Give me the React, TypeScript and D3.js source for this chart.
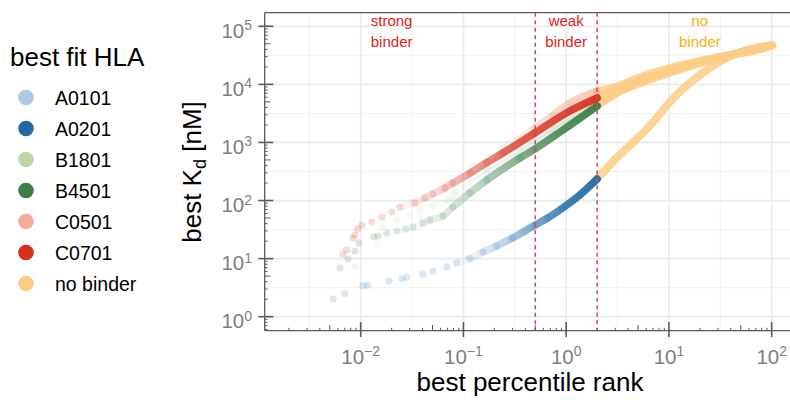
import React, { useEffect, useRef } from "react";
import * as d3 from "d3";

// legend groups and colours
const groups = ["A0101", "A0201", "B1801", "B4501", "C0501", "C0701", "no binder"];
const groupColors = ["#aec7e2", "#1f6aa5", "#c2d5a8", "#3b7f47", "#f4ad98", "#d7301f", "#fdcd85"];

// [best percentile rank, best Kd (nM)]; rank > 2 counts as "no binder"
const A0101 = [
  [0.0146, 17.6], [0.0377, 54], [0.0789, 106], [0.169, 287], [0.354, 608], [0.741, 1455], [2, 4590],
  [3, 7540], [5, 11000], [10, 17000], [20, 24300], [40, 32000], [70, 39900], [100, 47000],
];
const A0201 = [
  [0.0054, 2.0], [0.007, 2.5], [0.0105, 3.4], [0.0117, 3.5], [0.0188, 4.1], [0.0252, 4.5],
  [0.0282, 4.8], [0.0403, 5.4], [0.0504, 6.1], [0.069, 7.2], [0.086, 8.4], [0.115, 10],
  [0.155, 13], [0.21, 16.5], [0.3, 22.6], [0.5, 38], [0.66, 50], [0.93, 75], [1.36, 125], [2, 235],
  [3, 511], [5, 1208], [7, 2220], [10, 4800], [14, 8700], [20, 14500], [30, 23800], [50, 36100],
  [70, 42300], [100, 47000],
];
const B1801 = [
  [0.0088, 7.5], [0.0164, 35], [0.0225, 46], [0.0301, 56], [0.0377, 72], [0.0504, 82], [0.069, 100],
  [0.0826, 140], [0.169, 363], [0.354, 803], [0.741, 1850], [2, 5070],
  [3, 7540], [5, 11000], [10, 17000], [20, 24300], [40, 32000], [70, 39900], [100, 47000],
];
const B4501 = [
  [0.0063, 6.9], [0.0075, 9.85], [0.0088, 13.5], [0.0096, 18.6], [0.0134, 23.6], [0.0147, 24.5],
  [0.018, 27.6], [0.0225, 29.9], [0.0275, 32.4], [0.0322, 35.1], [0.0403, 41.1], [0.0471, 46.3],
  [0.0631, 54.2], [0.0789, 77.4], [0.1156, 135], [0.169, 226], [0.354, 540], [0.495, 771],
  [0.929, 1640], [2, 4250],
  [3, 6820], [5, 10200], [10, 15700], [20, 23300], [40, 32000], [70, 42300], [100, 47000],
];
const C0501 = [
  [0.242, 803], [0.354, 1150], [0.495, 1775], [0.741, 2970], [1.086, 4790], [2, 7690],
  [3, 9020], [5, 12900], [10, 19100], [20, 25300], [40, 32000], [70, 38300], [100, 47000],
];
const C0701 = [
  [0.0067, 12.0], [0.0073, 14.1], [0.0084, 22.6], [0.0088, 25.5], [0.0094, 32.4], [0.0103, 37.9],
  [0.0128, 42.7], [0.0161, 52.1], [0.0201, 63.5], [0.0241, 77.4], [0.0337, 90.7], [0.0422, 111],
  [0.0504, 130], [0.066, 165], [0.079, 200], [0.116, 298], [0.169, 452], [0.242, 658],
  [0.495, 1455], [1.086, 3480], [2, 5830],
  [3, 8000], [5, 11400], [10, 17300], [20, 24300], [40, 32000], [70, 39900], [100, 47000],
];

const cutoffs = [0.5, 2];
const zoneLabels = [["strong", "binder"], ["weak", "binder"], ["no", "binder"]];
const zoneRanks = [0.02, 1, 20];
const zoneColors = ["#e41a1c", "#e41a1c", "#f2b10c"];

const FONT = "'Liberation Sans', Arial, Helvetica, sans-serif";

export default function App() {
  const ref = useRef<SVGSVGElement>(null);

  useEffect(() => {
    document.body.style.margin = "0";
    const svg = d3.select(ref.current);
    svg.selectAll("*").remove();

    const left = 264.7, right = 790, top = 12.7, bottom = 330.7;
    const x = d3.scaleLog().domain([0.01, 100]).range([360.7, 771.7]);
    const y = d3.scaleLog().domain([1, 1e5]).range([316.7, 26.3]);
    const xMin = x.invert(left), xMax = x.invert(right);
    const yMin = y.invert(bottom), yMax = y.invert(top);
    const color = d3.scaleOrdinal<string, string>().domain(groups).range(groupColors);

    const defs = svg.append("defs");
    defs.append("clipPath").attr("id", "panel")
      .append("rect").attr("x", left).attr("y", top)
      .attr("width", right - left).attr("height", bottom - top);

    // grid
    const grid = svg.append("g");
    for (let k = -4; k <= 3; k++) {
      const maj = Math.pow(10, k), mn = Math.pow(10, k + 0.5);
      if (mn > xMin && mn < xMax)
        grid.append("line").attr("x1", x(mn)).attr("x2", x(mn)).attr("y1", top).attr("y2", bottom)
          .attr("stroke", "#f2f2f2").attr("stroke-width", 1);
      if (maj > xMin && maj < xMax)
        grid.append("line").attr("x1", x(maj)).attr("x2", x(maj)).attr("y1", top).attr("y2", bottom)
          .attr("stroke", "#ebebeb").attr("stroke-width", 1.7);
    }
    for (let k = -1; k <= 6; k++) {
      const maj = Math.pow(10, k), mn = Math.pow(10, k + 0.5);
      if (mn > yMin && mn < yMax)
        grid.append("line").attr("y1", y(mn)).attr("y2", y(mn)).attr("x1", left).attr("x2", right)
          .attr("stroke", "#f2f2f2").attr("stroke-width", 1);
      if (maj > yMin && maj < yMax)
        grid.append("line").attr("y1", y(maj)).attr("y2", y(maj)).attr("x1", left).attr("x2", right)
          .attr("stroke", "#ebebeb").attr("stroke-width", 1.7);
    }

    const line = d3.line<number[]>()
      .x((d) => x(d[0]))
      .y((d) => y(d[1]))
      .curve(d3.curveMonotoneX);

    // fade: how dense the points get along the rank axis
    const series = [
      { name: "A0101", data: A0101, fade: [[0.05, 0], [0.3, 0.12], [2, 0.25]], dot: 0.1 },
      { name: "B1801", data: B1801, fade: [[0.03, 0], [0.12, 0.12], [0.5, 0.3], [2, 0.5]], dot: 0.16 },
      { name: "C0501", data: C0501, fade: [[0.2, 0], [0.5, 0.35], [2, 0.7]], dot: 0.15 },
      { name: "A0201", data: A0201, fade: [[0.08, 0], [0.2, 0.2], [0.5, 0.6], [1, 0.85], [2, 0.95]], dot: 0.16 },
      { name: "B4501", data: B4501, fade: [[0.03, 0], [0.12, 0.28], [0.4, 0.65], [1, 0.88], [2, 0.95]], dot: 0.18 },
      { name: "C0701", data: C0701, fade: [[0.02, 0], [0.05, 0.15], [0.12, 0.45], [0.3, 0.75], [2, 0.95]], dot: 0.18 },
    ];

    const plot = svg.append("g").attr("clip-path", "url(#panel)");

    // no binder continuation (rank > 2)
    series.forEach((s) => {
      plot.append("path")
        .attr("d", line(s.data.filter((d) => d[0] >= 2)))
        .attr("fill", "none")
        .attr("stroke", color("no binder"))
        .attr("stroke-opacity", 0.85)
        .attr("stroke-width", 8)
        .attr("stroke-linecap", "round")
        .attr("stroke-linejoin", "round");
    });

    series.forEach((s, i) => {
      const main = s.data.filter((d) => d[0] <= 2);
      const x1 = x(s.fade[0][0]), x2 = x(2);
      const grad = defs.append("linearGradient")
        .attr("id", "fade" + i)
        .attr("gradientUnits", "userSpaceOnUse")
        .attr("x1", x1).attr("x2", x2).attr("y1", 0).attr("y2", 0);
      s.fade.forEach((f) => {
        grad.append("stop")
          .attr("offset", (x(f[0]) - x1) / (x2 - x1))
          .attr("stop-color", color(s.name))
          .attr("stop-opacity", f[1]);
      });
      plot.append("path")
        .attr("d", line(main))
        .attr("fill", "none")
        .attr("stroke", `url(#fade${i})`)
        .attr("stroke-width", 7.5)
        .attr("stroke-linecap", "round")
        .attr("stroke-linejoin", "round");
      plot.selectAll(null)
        .data(main)
        .enter()
        .append("circle")
        .attr("cx", (d) => x(d[0]))
        .attr("cy", (d) => y(d[1]))
        .attr("r", 3.6)
        .attr("fill", color(s.name))
        .attr("fill-opacity", s.dot);
    });

    // cut-off lines
    cutoffs.forEach((c) => {
      svg.append("line")
        .attr("x1", x(c)).attr("x2", x(c)).attr("y1", top).attr("y2", bottom)
        .attr("stroke", "#e0434f").attr("stroke-width", 1.5)
        .attr("stroke-dasharray", "4,3.5");
    });

    // zone labels
    zoneLabels.forEach((lines, i) => {
      lines.forEach((t, j) => {
        svg.append("text")
          .attr("x", x(zoneRanks[i]))
          .attr("y", 26 + j * 21)
          .attr("text-anchor", "middle")
          .attr("font-family", FONT)
          .attr("font-size", 15)
          .attr("fill", zoneColors[i])
          .text(t);
      });
    });

    // axes + log ticks
    const axisCol = "#5a5a5a";
    const ax = svg.append("g").attr("stroke", axisCol);
    ax.append("line").attr("x1", left).attr("x2", right).attr("y1", top).attr("y2", top).attr("stroke-width", 1.3);
    ax.append("line").attr("x1", left).attr("x2", right).attr("y1", bottom).attr("y2", bottom).attr("stroke-width", 1.3);
    ax.append("line").attr("x1", left).attr("x2", left).attr("y1", top).attr("y2", bottom).attr("stroke-width", 1.3);

    const tickLen = (m: number) => (m === 1 ? 8.6 : m === 5 ? 5.7 : 2.9);
    for (let k = -4; k <= 3; k++) {
      for (let m = 1; m <= 9; m++) {
        const v = m * Math.pow(10, k);
        if (v > xMin && v < xMax) {
          ax.append("line").attr("x1", x(v)).attr("x2", x(v))
            .attr("y1", bottom).attr("y2", bottom - tickLen(m))
            .attr("stroke-width", m === 1 ? 1.6 : 1);
          if (m === 1)
            ax.append("line").attr("x1", x(v)).attr("x2", x(v))
              .attr("y1", bottom).attr("y2", bottom + 6.4).attr("stroke-width", 1.6);
        }
      }
    }
    for (let k = -1; k <= 6; k++) {
      for (let m = 1; m <= 9; m++) {
        const v = m * Math.pow(10, k);
        if (v > yMin && v < yMax) {
          ax.append("line").attr("y1", y(v)).attr("y2", y(v))
            .attr("x1", left).attr("x2", left + tickLen(m))
            .attr("stroke-width", m === 1 ? 1.6 : 1);
          if (m === 1)
            ax.append("line").attr("y1", y(v)).attr("y2", y(v))
              .attr("x1", left - 6.4).attr("x2", left).attr("stroke-width", 1.6);
        }
      }
    }

    const expLabel = (g: any, e: number) => {
      g.append("tspan").text("10");
      g.append("tspan").attr("dy", -7.5).attr("font-size", 14).text(e < 0 ? "\u2212" + -e : String(e));
    };
    [-2, -1, 0, 1, 2].forEach((e) => {
      const t = svg.append("text")
        .attr("x", x(Math.pow(10, e))).attr("y", 363.5)
        .attr("text-anchor", "middle")
        .attr("font-family", FONT).attr("font-size", 20.5).attr("fill", "#7f7f7f");
      expLabel(t, e);
    });
    [0, 1, 2, 3, 4, 5].forEach((e) => {
      const t = svg.append("text")
        .attr("x", 252).attr("y", y(Math.pow(10, e)) + 11.5)
        .attr("text-anchor", "end")
        .attr("font-family", FONT).attr("font-size", 20.5).attr("fill", "#7f7f7f");
      expLabel(t, e);
    });

    // axis titles
    svg.append("text")
      .attr("x", 530).attr("y", 391)
      .attr("text-anchor", "middle")
      .attr("font-family", FONT).attr("font-size", 26).attr("fill", "#000")
      .text("best percentile rank");
    const yt = svg.append("text")
      .attr("transform", `translate(201,172) rotate(-90)`)
      .attr("text-anchor", "middle")
      .attr("font-family", FONT).attr("font-size", 26).attr("fill", "#000");
    yt.append("tspan").text("best K");
    yt.append("tspan").attr("dy", 5).attr("font-size", 18).text("d");
    yt.append("tspan").attr("dy", -5).text(" [nM]");

    // legend
    const lg = svg.append("g");
    lg.append("text").attr("x", 10).attr("y", 66)
      .attr("font-family", FONT).attr("font-size", 26).text("best fit HLA");
    groups.forEach((gname, i) => {
      const cy = 97.5 + i * 31;
      lg.append("circle").attr("cx", 26).attr("cy", cy).attr("r", 7.8).attr("fill", color(gname));
      lg.append("text").attr("x", 55).attr("y", cy + 7.2)
        .attr("font-family", FONT).attr("font-size", 19.5).text(gname);
    });
  }, []);

  return <svg ref={ref} width={790} height={400} style={{ display: "block" }}></svg>;
}
